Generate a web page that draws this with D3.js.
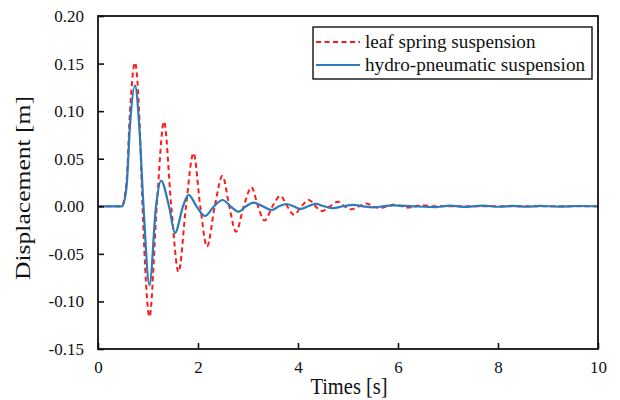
<!DOCTYPE html>
<html>
<head>
<meta charset="utf-8">
<script src="https://cdn.jsdelivr.net/npm/d3@7"></script>
<style>
	body { margin: 0; background: #fff; }
	text { font-family: "Liberation Serif", "Times New Roman", serif; fill: #111; }
</style>
</head>
<body>
<svg id="chart" width="620" height="400"></svg>
<script>
var seriesNames = ["leaf spring suspension", "hydro-pneumatic suspension"];
var seriesColors = ["#ff1a1a", "#2b7bba"];

var xTicks = [0, 2, 4, 6, 8, 10];
var yTicks = [-0.15, -0.10, -0.05, 0.00, 0.05, 0.10, 0.15, 0.20];

// leaf spring (red dashed)
var leafTime = [0, 0.47, 0.57, 0.64, 0.74, 0.83, 0.89, 1.03, 1.175, 1.32, 1.465, 1.61, 1.76,
	1.91, 2.045, 2.18, 2.335, 2.49, 2.625, 2.76, 2.915, 3.07, 3.2, 3.33, 3.49, 3.65, 3.785,
	3.92, 4.07, 4.22, 4.35, 4.48, 4.64, 4.8, 4.93, 5.06, 5.22, 5.37, 5.5, 5.63, 5.79, 5.94,
	6.07, 6.2, 6.35, 6.5, 6.7, 8, 10];
var leafDisp = [0, 0, 0.025, 0.1, 0.151, 0.09, 0, -0.116, 0, 0.089, 0, -0.069, 0,
	0.056, 0, -0.0424, 0, 0.032, 0, -0.0267, 0, 0.020, 0, -0.015, 0, 0.011, 0,
	-0.009, 0, 0.0066, 0, -0.005, 0, 0.0048, 0, -0.0032, 0, 0.003, 0, -0.002, 0, 0.002,
	0, -0.0014, 0, 0.0012, 0, 0, 0];

// hydro-pneumatic (blue solid)
var hydroTime = [0, 0.48, 0.57, 0.64, 0.74, 0.83, 0.91, 1.03, 1.16, 1.26, 1.42, 1.54, 1.7,
	1.81, 1.97, 2.14, 2.32, 2.49, 2.65, 2.81, 2.96, 3.11, 3.29, 3.47, 3.62, 3.77, 3.91,
	4.05, 4.2, 4.35, 4.52, 4.7, 4.9, 5.1, 5.3, 5.5, 5.7, 5.9, 6.3, 6.77, 7.04, 7.3, 7.7,
	8.04, 8.3, 8.58, 8.84, 9.2, 9.6, 10];
var hydroDisp = [0, 0, 0.02, 0.085, 0.127, 0.08, 0, -0.083, 0, 0.027, 0, -0.028, 0,
	0.012, 0, -0.0102, 0, 0.0066, 0, -0.0057, 0, 0.0038, 0, -0.0039, 0, 0.0024, 0,
	-0.0028, 0, 0.0025, 0, -0.002, 0, 0.0015, 0, -0.0012, 0, 0.001, 0, -0.0008, 0.0008, -0.0006, 0.0006,
	-0.0005, 0.0005, -0.0005, 0.0004, -0.0003, 0.0003, 0];

var plotL = 98, plotR = 598, plotT = 16, plotB = 349;

var svg = d3.select("#chart");

var xScale = d3.scaleLinear()
	.domain([0, 10])
	.range([plotL, plotR]);

var yScale = d3.scaleLinear()
	.domain([-0.15, 0.20])
	.range([plotB, plotT]);

function toPoints(ts, vs) {
	return ts.map(function(t, i) { return [t, vs[i]]; });
}

var line = d3.line()
	.x(function(d) { return xScale(d[0]); })
	.y(function(d) { return yScale(d[1]); })
	.curve(d3.curveMonotoneX);

svg.append("path")
	.datum(toPoints(leafTime, leafDisp))
	.attr("fill", "none")
	.attr("stroke", seriesColors[0])
	.attr("stroke-width", 2)
	.attr("stroke-dasharray", "5,3.5")
	.attr("d", line);

svg.append("path")
	.datum(toPoints(hydroTime, hydroDisp))
	.attr("fill", "none")
	.attr("stroke", seriesColors[1])
	.attr("stroke-width", 2.2)
	.attr("d", line);

// axes, ticks pointing inward
svg.append("g")
	.attr("transform", "translate(0," + plotB + ")")
	.call(d3.axisBottom(xScale)
		.tickValues(xTicks)
		.tickSizeInner(-6)
		.tickSizeOuter(0)
		.tickPadding(12)
		.tickFormat(function(d) { return d; }));

svg.append("g")
	.attr("transform", "translate(" + plotL + ",0)")
	.call(d3.axisLeft(yScale)
		.tickValues(yTicks)
		.tickSizeInner(-6)
		.tickSizeOuter(0)
		.tickPadding(14)
		.tickFormat(function(d) { return d.toFixed(2); }));

svg.selectAll(".domain").remove();
svg.selectAll(".tick line").attr("stroke", "#111").attr("stroke-width", 1.6);
svg.selectAll(".tick text")
	.style("font-family", '"Liberation Serif", serif')
	.style("font-size", "17px")
	.attr("fill", "#111");

svg.append("rect")
	.attr("x", plotL)
	.attr("y", plotT)
	.attr("width", plotR - plotL)
	.attr("height", plotB - plotT)
	.attr("fill", "none")
	.attr("stroke", "#111")
	.attr("stroke-width", 1.8);

svg.append("text")
	.attr("transform", "translate(349,394) scale(1,1.12)")
	.style("text-anchor", "middle")
	.style("font-size", "20.5px")
	.text("Times [s]");

svg.append("text")
	.attr("transform", "translate(23,188) rotate(-90) scale(1.28,1)")
	.attr("dy", "0.35em")
	.style("text-anchor", "middle")
	.style("font-size", "20px")
	.text("Displacement [m]");

// legend
var lg = svg.append("g");
lg.append("rect")
	.attr("x", 313)
	.attr("y", 27)
	.attr("width", 279)
	.attr("height", 52)
	.attr("fill", "#fff")
	.attr("stroke", "#111")
	.attr("stroke-width", 1.4);

seriesNames.forEach(function(name, i) {
	var yy = 42 + i * 23;
	lg.append("line")
		.attr("x1", 316)
		.attr("x2", 360)
		.attr("y1", yy)
		.attr("y2", yy)
		.attr("stroke", seriesColors[i])
		.attr("stroke-width", i === 0 ? 2 : 2.2)
		.attr("stroke-dasharray", i === 0 ? "5,3.5" : null);
	lg.append("text")
		.attr("x", 365)
		.attr("y", yy)
		.attr("dy", "0.32em")
		.style("font-size", "19.2px")
		.text(name);
});
</script>
</body>
</html>
